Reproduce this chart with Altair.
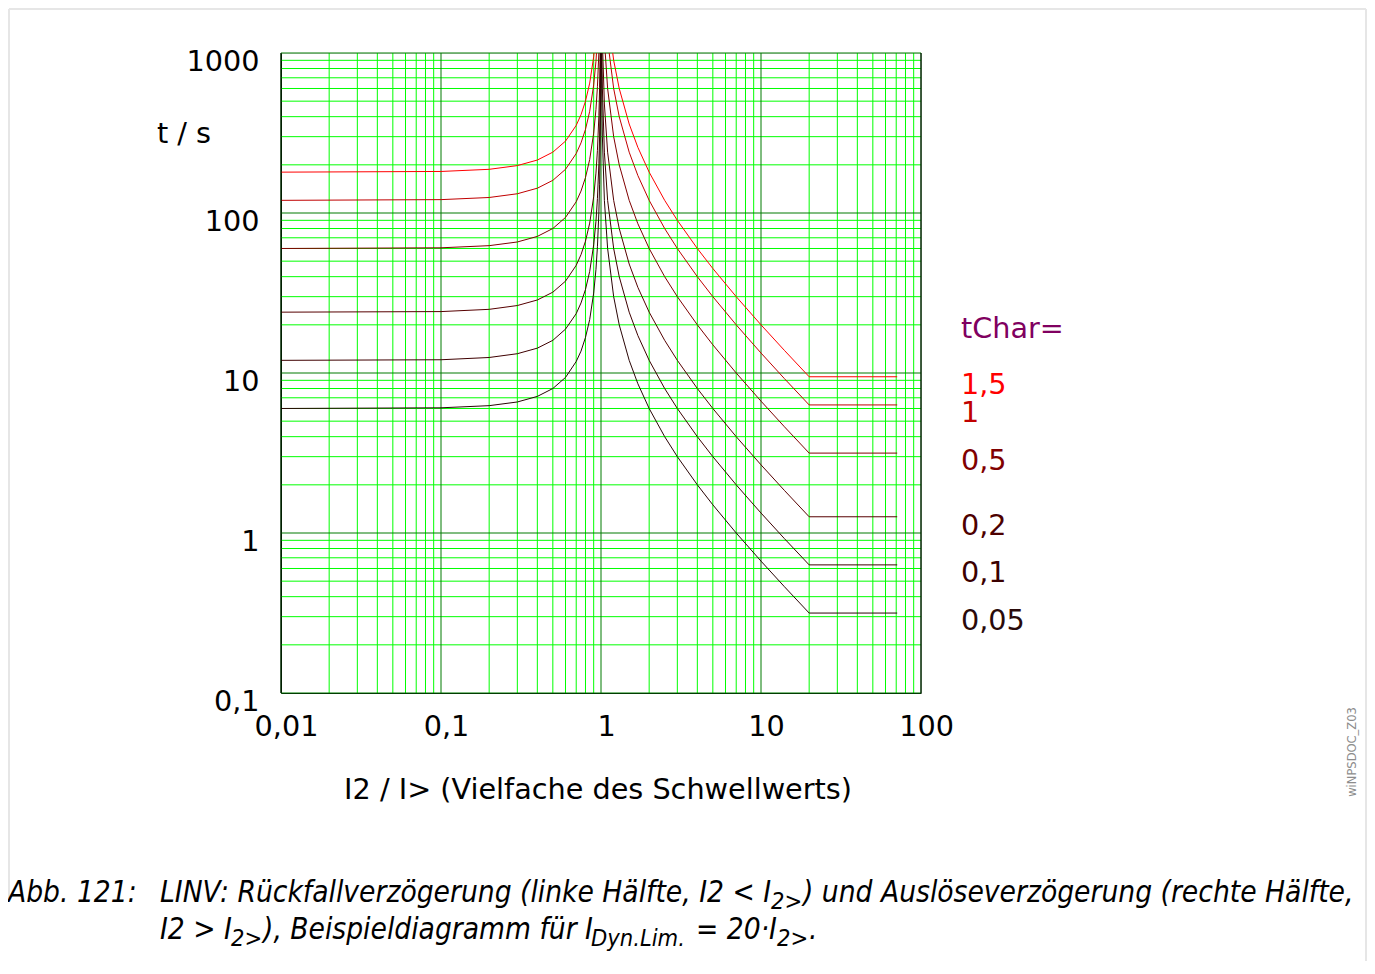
import altair as alt
import pandas as pd

# ---------------- data ----------------
t_chars = ["1,5", "1", "0,5", "0,2", "0,1", "0,05"]
curve_colors = ["#ff0000", "#c00000", "#800000", "#560000", "#3e0000", "#2a0505"]
label_colors = ["#ff0000", "#c00000", "#800000", "#4d0000", "#3a0000", "#2a0a0a"]

# left half (reset delay), x = I2 / I>
x_left = [0.01, 0.1, 0.2, 0.3, 0.4, 0.5, 0.6, 0.7, 0.75, 0.8, 0.85, 0.9,
          0.93, 0.95, 0.97, 0.98, 0.99, 0.995, 0.998, 0.999]
t_left_15 = [180.0, 181.8, 187.5, 197.8, 214.3, 240.0, 281.3, 352.9, 411.4, 500.0,
             648.6, 947.4, 1332, 1846, 3046, 4545, 9045, 18045, 45045, 90045]
t_left_1 = [120.0, 121.2, 125.0, 131.9, 142.9, 160.0, 187.5, 235.3, 274.3, 333.3,
            432.4, 631.6, 888.2, 1230.8, 2030, 3030, 6030, 12030, 30030, 60030]
t_left_05 = [60.0, 60.6, 62.5, 65.9, 71.4, 80.0, 93.8, 117.6, 137.1, 166.7,
             216.2, 315.8, 444.1, 615.4, 1015, 1515, 3015, 6015, 15015, 30015]
t_left_02 = [24.0, 24.2, 25.0, 26.4, 28.6, 32.0, 37.5, 47.1, 54.9, 66.7,
             86.5, 126.3, 177.6, 246.2, 406.1, 606.1, 1206, 2406, 6006, 12006]
t_left_01 = [12.0, 12.1, 12.5, 13.2, 14.3, 16.0, 18.8, 23.5, 27.4, 33.3,
             43.2, 63.2, 88.8, 123.1, 203.0, 303.0, 603.0, 1203, 3003, 6003]
t_left_005 = [6.0, 6.06, 6.25, 6.59, 7.14, 8.0, 9.38, 11.8, 13.7, 16.7,
              21.6, 31.6, 44.4, 61.5, 101.5, 151.5, 301.5, 601.5, 1502, 3002]

# right half (trip delay)
x_right = [1.001, 1.002, 1.005, 1.01, 1.02, 1.05, 1.1, 1.2, 1.3, 1.5, 1.7, 2, 2.5,
           3, 4, 5, 7, 10, 14, 20, 71]
t_right_15 = [180000, 90000, 36000, 18000, 9000, 3600, 1800, 900, 600, 360, 257.1,
              180, 120, 90, 60, 45, 30, 20, 13.85, 9.474, 9.474]
t_right_1 = [120000, 60000, 24000, 12000, 6000, 2400, 1200, 600, 400, 240, 171.4,
             120, 80, 60, 40, 30, 20, 13.33, 9.23, 6.316, 6.316]
t_right_05 = [60000, 30000, 12000, 6000, 3000, 1200, 600, 300, 200, 120, 85.7,
              60, 40, 30, 20, 15, 10, 6.667, 4.615, 3.158, 3.158]
t_right_02 = [24000, 12000, 4800, 2400, 1200, 480, 240, 120, 80, 48, 34.29,
              24, 16, 12, 8, 6, 4, 2.667, 1.846, 1.263, 1.263]
t_right_01 = [12000, 6000, 2400, 1200, 600, 240, 120, 60, 40, 24, 17.14,
              12, 8, 6, 4, 3, 2, 1.333, 0.923, 0.632, 0.632]
t_right_005 = [6000, 3000, 1200, 600, 300, 120, 60, 30, 20, 12, 8.57,
               6, 4, 3, 2, 1.5, 1, 0.667, 0.462, 0.316, 0.316]

left_series = [t_left_15, t_left_1, t_left_05, t_left_02, t_left_01, t_left_005]
right_series = [t_right_15, t_right_1, t_right_05, t_right_02, t_right_01, t_right_005]

# grid lines
x_minor = [0.02, 0.03, 0.04, 0.05, 0.06, 0.07, 0.08, 0.09,
           0.2, 0.3, 0.4, 0.5, 0.6, 0.7, 0.8, 0.9,
           2, 3, 4, 5, 6, 7, 8, 9,
           20, 30, 40, 50, 60, 70, 80, 90]
x_major = [0.01, 0.1, 1, 10, 100]
y_minor = [0.2, 0.3, 0.4, 0.5, 0.6, 0.7, 0.8, 0.9,
           2, 3, 4, 5, 6, 7, 8, 9,
           20, 30, 40, 50, 60, 70, 80, 90,
           200, 300, 400, 500, 600, 700, 800, 900]
y_major = [0.1, 1, 10, 100, 1000]
x_ticks = [0.01, 0.1, 1, 10, 100]
y_ticks = [0.1, 1, 10, 100, 1000]

# ---------------- tables ----------------
rows = []
for name, ls, rs in zip(t_chars, left_series, right_series):
    for i, (xv, tv) in enumerate(zip(x_left, ls)):
        rows.append({"tchar": name, "seg": name + "_L", "i": i, "x": xv, "t": tv})
    for i, (xv, tv) in enumerate(zip(x_right, rs)):
        rows.append({"tchar": name, "seg": name + "_R", "i": i, "x": xv, "t": tv})
curves = pd.DataFrame(rows)

xs = alt.Scale(type="log", domain=[0.01, 100])
ys = alt.Scale(type="log", domain=[0.1, 1000])

FONT = "DejaVu Sans"
FS = 28.7
xaxis = alt.Axis(values=x_ticks, grid=False, ticks=False, tickSize=0, domain=True,
                 domainColor="#000000", domainWidth=1, labelFontSize=FS, labelFont=FONT,
                 labelColor="#000000", labelBaseline="alphabetic", labelPadding=42,
                 labelOffset=5, labelFlush=False, labelOverlap=False,
                 labelExpr="replace(toString(datum.value), '.', ',')", title=None)
yaxis = alt.Axis(values=y_ticks, grid=False, ticks=False, tickSize=0, domain=True,
                 domainColor="#000000", domainWidth=1, labelFontSize=FS, labelFont=FONT,
                 labelColor="#000000", labelBaseline="alphabetic", labelPadding=22,
                 labelOffset=17, labelFlush=False, labelOverlap=False,
                 labelExpr="replace(toString(datum.value), '.', ',')", title=None)

vminor = alt.Chart(pd.DataFrame({"v": x_minor})).mark_rule(color="#00ff00", strokeWidth=1).encode(
    x=alt.X("v:Q", scale=xs, axis=xaxis), y=alt.value(0), y2=alt.value(640))
hminor = alt.Chart(pd.DataFrame({"v": y_minor})).mark_rule(color="#00ff00", strokeWidth=1).encode(
    y=alt.Y("v:Q", scale=ys, axis=yaxis), x=alt.value(0), x2=alt.value(640))
vmajor = alt.Chart(pd.DataFrame({"v": x_major})).mark_rule(color="#007a00", strokeWidth=1).encode(
    x=alt.X("v:Q", scale=xs, axis=xaxis), y=alt.value(0), y2=alt.value(640))
hmajor = alt.Chart(pd.DataFrame({"v": y_major})).mark_rule(color="#007a00", strokeWidth=1).encode(
    y=alt.Y("v:Q", scale=ys, axis=yaxis), x=alt.value(0), x2=alt.value(640))

lines = alt.Chart(curves).mark_line(clip=True, strokeWidth=1).encode(
    x=alt.X("x:Q", scale=xs, axis=xaxis),
    y=alt.Y("t:Q", scale=ys, axis=yaxis),
    color=alt.Color("tchar:N", scale=alt.Scale(domain=t_chars, range=curve_colors), legend=None),
    detail="seg:N",
    order="i:Q",
)

one = pd.DataFrame({"k": [0]})


def rule(x, x2, y, y2, color, width):
    return alt.Chart(one).mark_rule(color=color, strokeWidth=width).encode(
        x=alt.value(x), x2=alt.value(x2), y=alt.value(y), y2=alt.value(y2))


def txt(s, x, y, size, color="#000000", style="normal", align="left", angle=0,
        font=FONT, baseline="alphabetic"):
    return alt.Chart(one).mark_text(text=s, align=align, baseline=baseline, fontSize=size,
                                    color=color, fontStyle=style, font=font,
                                    angle=angle).encode(x=alt.value(x), y=alt.value(y))


right_border = rule(640, 640, 0, 640, "#000000", 1)
left_border = rule(0, 0, 0, 640, "#000000", 1)

# frame of the figure
frame = [
    rule(-272, 1085, -44, -44, "#e6e6e6", 2),
    rule(-272, -272, -44, 845, "#e6e6e6", 2),
    rule(1085, 1085, -44, 915, "#e6e6e6", 2),
]

texts = [
    txt("t / s", -97, 90, FS, align="center"),
    txt("I2 / I> (Vielfache des Schwellwerts)", 317, 746, FS, align="center"),
    txt("tChar=", 680, 285, FS, color="#800060"),
]
label_baselines = [341, 369, 417, 482, 529, 577]
for lab, col, yb in zip(t_chars, label_colors, label_baselines):
    texts.append(txt(lab, 680, yb, FS, color=col))

texts.append(txt("wiNPSDOC_Z03", 1072, 699, 11.5, color="#8c8c8c", align="center",
                 angle=270, baseline="middle"))

CAP = "DejaVu Sans Condensed, DejaVu Sans"
CS = 29.6
SS = 23.5
b1, b2 = 849, 886
caption = [
    txt("Abb. 121:", -273, b1, CS, style="italic", font=CAP),
    txt("LINV: Rückfallverzögerung (linke Hälfte, I2 < I", -121, b1, CS, style="italic", font=CAP),
    txt("2>", 490, b1 + 7, SS, style="italic", font=CAP),
    txt(") und Auslöseverzögerung (rechte Hälfte,", 522, b1, CS, style="italic", font=CAP),
    txt("I2 > I", -121, b2, CS, style="italic", font=CAP),
    txt("2>", -50, b2 + 7, SS, style="italic", font=CAP),
    txt("), Beispieldiagramm für I", -18, b2, CS, style="italic", font=CAP),
    txt("Dyn.Lim.", 310, b2 + 7, SS, style="italic", font=CAP),
    txt("= 20·I", 415, b2, CS, style="italic", font=CAP),
    txt("2>", 496, b2 + 7, SS, style="italic", font=CAP),
    txt(".", 528, b2, CS, style="italic", font=CAP),
]

chart = alt.layer(
    vminor, hminor, vmajor, hmajor, lines, right_border, left_border,
    *frame, *texts, *caption
).properties(
    width=640, height=640,
    autosize=alt.AutoSizeParams(type="none"),
    padding={"left": 273, "top": 45, "right": 446, "bottom": 268},
).configure_view(stroke=None).configure(background="#ffffff")

chart.save("out.html", embed_options={"renderer": "svg", "actions": False})
